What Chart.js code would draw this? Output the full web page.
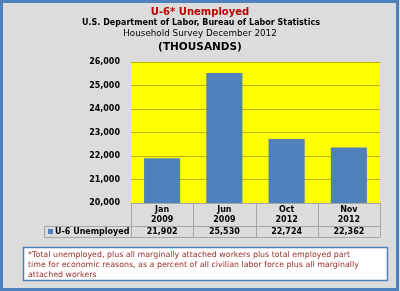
<!DOCTYPE html>
<html>
<head>
<meta charset="utf-8">
<script src="https://cdn.jsdelivr.net/npm/chart.js@4"></script>
<style>
  html, body { margin: 0; padding: 0; background: #dcdcdc; }
  #wrap { width: 400px; height: 291px; position: relative; }
</style>
</head>
<body>
<div id="wrap"><canvas id="u6Chart"></canvas></div>
<script>
// Datos del gráfico
const mesLabels = ['Jan', 'Jun', 'Oct', 'Nov'];
const anioLabels = ['2009', '2009', '2012', '2012'];
const u6Values = [21902, 25530, 22724, 22362];
const serieNombre = 'U-6 Unemployed';
const titulos = [
  'U-6* Unemployed',
  'U.S. Department of Labor, Bureau of Labor Statistics',
  'Household Survey December 2012',
  '(THOUSANDS)'
];
const notaLineas = [
  '*Total unemployed, plus all marginally attached workers plus total employed part',
  'time for economic reasons, as a percent of all civilian labor force plus all marginally',
  'attached workers'
];

const azul = '#4f81bd';
const fuente = '"DejaVu Sans", Verdana, sans-serif';

// Fondo gris, borde azul, títulos y nota al pie
const marcoPlugin = {
  id: 'marco',
  beforeDraw(chart) {
    const ctx = chart.ctx;
    const { width, height, chartArea } = chart;
    ctx.save();
    ctx.fillStyle = '#dcdcdc';
    ctx.fillRect(0, 0, width, height);
    ctx.strokeStyle = azul;
    ctx.lineWidth = 3;
    ctx.strokeRect(1.5, 1.5, width - 4, height - 3);
    // área amarilla
    ctx.fillStyle = '#ffff00';
    ctx.fillRect(chartArea.left, chartArea.top, chartArea.right - chartArea.left, chartArea.bottom - chartArea.top);
    ctx.restore();
  },
  afterDraw(chart) {
    const ctx = chart.ctx;
    ctx.save();
    ctx.textAlign = 'center';
    ctx.textBaseline = 'middle';
    ctx.fillStyle = '#c00000';
    ctx.font = 'bold 10px ' + fuente;
    ctx.fillText(titulos[0], 200, 12);
    ctx.fillStyle = '#000';
    ctx.font = 'bold 8px ' + fuente;
    ctx.fillText(titulos[1], 201, 23);
    ctx.font = '8.8px ' + fuente;
    ctx.fillText(titulos[2], 200, 34);
    ctx.font = 'bold 10.5px ' + fuente;
    ctx.fillText(titulos[3], 200, 47);

    // caja de la nota
    ctx.fillStyle = '#fff';
    ctx.fillRect(23, 247, 365, 34);
    ctx.strokeStyle = azul;
    ctx.lineWidth = 1.5;
    ctx.strokeRect(23.5, 247.5, 364, 33);
    ctx.fillStyle = '#9b2d30';
    ctx.font = '7.9px ' + fuente;
    ctx.textAlign = 'left';
    notaLineas.forEach((l, i) => ctx.fillText(l, 28, 255 + i * 10));
    ctx.restore();
  }
};

// Tabla de datos debajo del gráfico
const tablaPlugin = {
  id: 'tabla',
  afterDraw(chart) {
    const ctx = chart.ctx;
    const x = chart.scales.x;
    const area = chart.chartArea;
    const y0 = area.bottom, y1 = 226, y2 = 237;
    const paso = (area.right - area.left) / mesLabels.length;
    ctx.save();
    ctx.strokeStyle = '#a6a6a6';
    ctx.lineWidth = 1;
    ctx.beginPath();
    // líneas horizontales
    ctx.moveTo(area.left, y0 + 0.5); ctx.lineTo(area.right, y0 + 0.5);
    ctx.moveTo(44, y1 + 0.5); ctx.lineTo(area.right, y1 + 0.5);
    ctx.moveTo(44, y2 + 0.5); ctx.lineTo(area.right, y2 + 0.5);
    // líneas verticales
    for (let i = 0; i <= mesLabels.length; i++) {
      const xx = Math.round(area.left + i * paso) + 0.5;
      ctx.moveTo(xx, y0); ctx.lineTo(xx, y2);
    }
    ctx.moveTo(44.5, y1); ctx.lineTo(44.5, y2);
    ctx.stroke();

    ctx.fillStyle = '#000';
    ctx.font = 'bold 8px ' + fuente;
    ctx.textAlign = 'center';
    ctx.textBaseline = 'middle';
    mesLabels.forEach((m, i) => {
      const cx = x.getPixelForValue(i);
      ctx.fillText(m, cx, 209.5);
      ctx.fillText(anioLabels[i], cx, 219.5);
      ctx.fillText(u6Values[i].toLocaleString('en-US'), cx, 232);
    });
    // celda de leyenda
    ctx.fillStyle = azul;
    ctx.fillRect(48, 229, 5, 5);
    ctx.fillStyle = '#000';
    ctx.textAlign = 'left';
    ctx.fillText(serieNombre, 55, 232);
    ctx.restore();
  }
};

const ctx = document.getElementById('u6Chart').getContext('2d');
new Chart(ctx, {
  type: 'bar',
  data: {
    labels: mesLabels,
    datasets: [{
      label: serieNombre,
      data: u6Values,
      backgroundColor: azul,
      categoryPercentage: 1,
      barPercentage: 0.58
    }]
  },
  options: {
    responsive: true,
    maintainAspectRatio: false,
    animation: false,
    layout: { padding: { top: 62, right: 20, bottom: 88, left: 0 } },
    plugins: {
      legend: { display: false },
      tooltip: { enabled: false }
    },
    scales: {
      x: { display: false },
      y: {
        min: 20000,
        max: 26000,
        afterFit(scale) { scale.width = 131; },
        border: { display: false },
        grid: { color: '#b5b500', drawTicks: false },
        ticks: {
          stepSize: 1000,
          padding: 11,
          color: '#000',
          font: { family: fuente, size: 8, weight: 'bold' },
          callback: v => v.toLocaleString('en-US')
        }
      }
    }
  },
  plugins: [marcoPlugin, tablaPlugin]
});
</script>
</body>
</html>
